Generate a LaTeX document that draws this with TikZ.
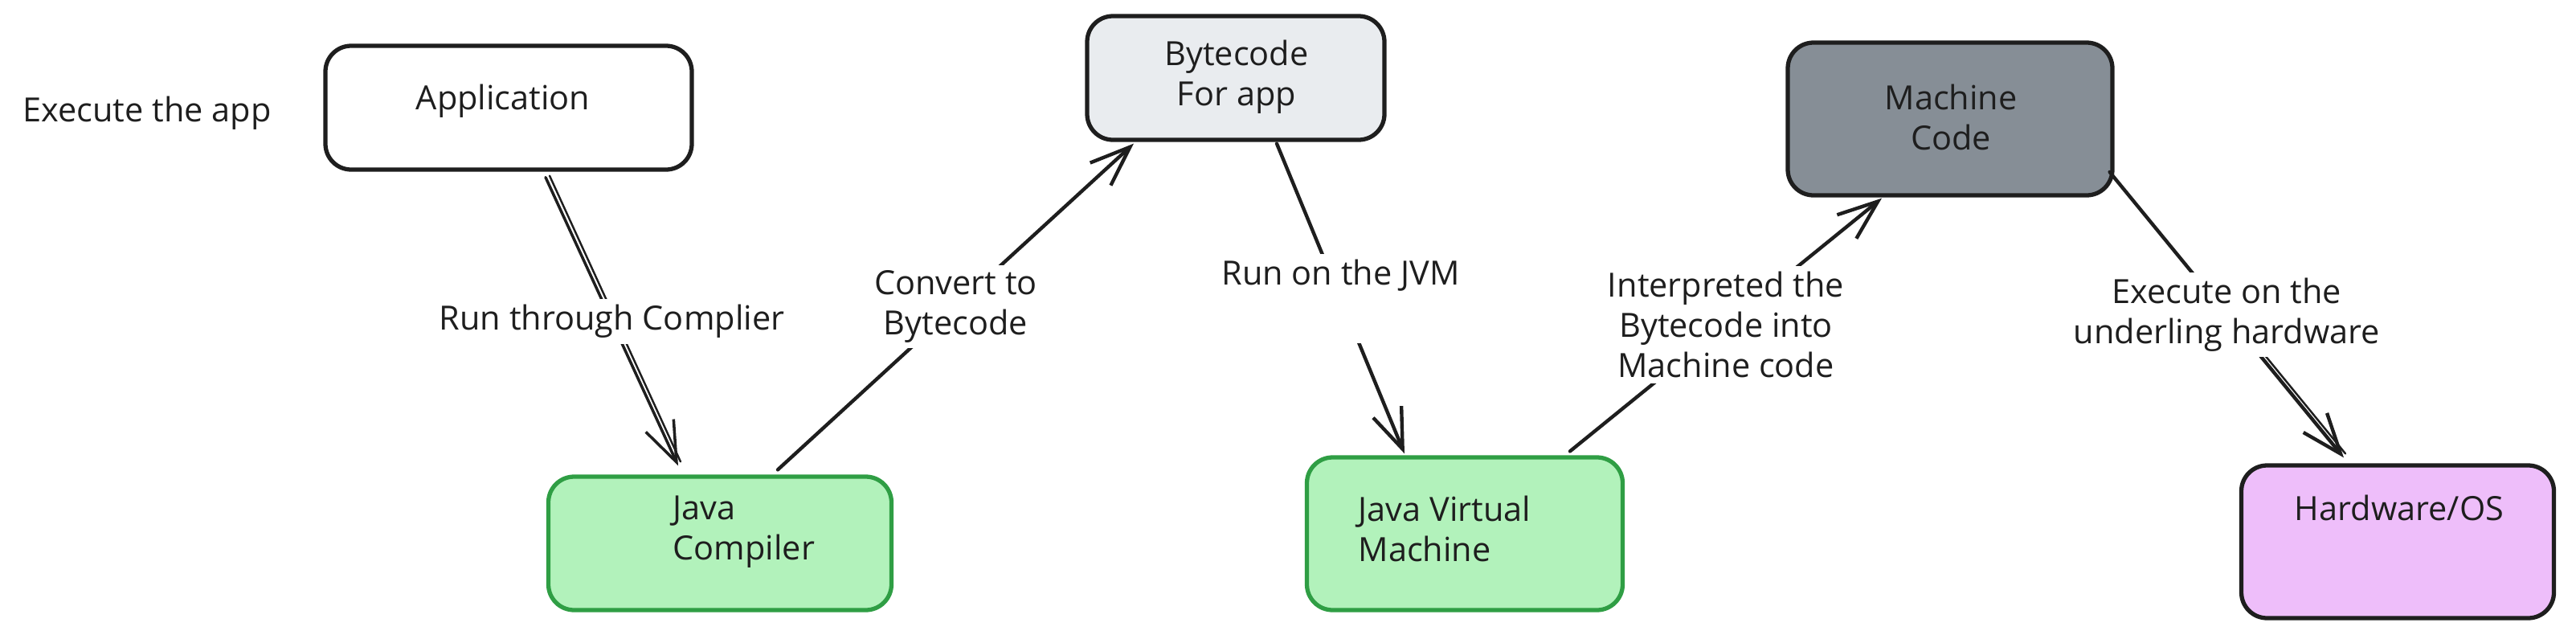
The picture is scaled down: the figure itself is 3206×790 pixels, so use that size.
\documentclass[tikz,border=0pt]{standalone}
\usepackage{fontspec}
\setmainfont{Open Sans}
\usetikzlibrary{arrows.meta,calc}
\definecolor{ink}{HTML}{1E1E1E}
\definecolor{grnfill}{HTML}{B2F2BB}
\definecolor{grnline}{HTML}{2F9E44}
\definecolor{lgray}{HTML}{E9ECEF}
\definecolor{dgray}{HTML}{868E96}
\definecolor{violetfill}{HTML}{EEBEFA}
\begin{document}
\begin{tikzpicture}[x=0.1mm,y=-0.1mm,
 box/.style={draw=ink, line width=1.5pt, rounded corners=3.2mm, inner sep=0pt},
 grnbox/.style={box, draw=grnline, fill=grnfill},
 txt/.style={font=\fontsize{11.8}{14.2}\selectfont, text=ink, align=left, inner sep=0pt},
 ctxt/.style={txt, align=center},
 lbl/.style={font=\fontsize{11.8}{14.2}\selectfont, text=ink, align=center, fill=white, inner sep=2pt},
 conn/.style={draw=ink, line width=1.25pt, line cap=round, line join=round, -{Straight Barb[length=5mm,width=3.8mm]}},
 sketch/.style={draw=ink, line width=0.7pt, line cap=round},
 ]
\useasboundingbox (0,0) rectangle (3206,790);
% boxes
\node[box, fill=white, minimum width=45.6mm, minimum height=15.4mm] (app) at (633,134) {};
\node[grnbox, minimum width=42.7mm, minimum height=16.6mm] (jc) at (896,676) {};
\node[box, fill=lgray, minimum width=37mm, minimum height=15.4mm] (bc) at (1538,97) {};
\node[grnbox, minimum width=39.3mm, minimum height=19mm] (jvm) at (1823,664) {};
\node[box, fill=dgray, minimum width=40.4mm, minimum height=19mm] (mc) at (2427,148) {};
\node[box, fill=violetfill, minimum width=38.9mm, minimum height=19mm] (hw) at (2984,674) {};
% texts
\node[ctxt] (exec) at (183,141) {Execute the app};
\node[ctxt] (appt) at (626,126) {Application};
\node[txt, anchor=west] (jct) at (837,662) {Java\\Compiler};
\node[ctxt] (bct) at (1539,96) {Bytecode\\For app};
\node[txt, anchor=west] (jvmt) at (1690,658) {Java Virtual\\Machine};
\node[ctxt] (mct) at (2428,146) {Machine\\Code};
\node[ctxt] (hwt) at (2986,632) {Hardware/OS};
% connectors
\draw[sketch] ($(app.south)+(51,5)$) -- ($(jc.north)+(-49,-16)$);
\draw[conn, line width=1pt] ($(app.south)+(46,7)$) -- ($(jc.north)+(-52,-11)$)
  node[lbl, pos=0.5] (l1) {Run through Complier};
\draw[conn] ($(jc.north)+(72,-6)$) -- ($(bc.south)+(-127,2)$)
  node[lbl, pos=0.5] (l2) {Convert to\\Bytecode};
\draw[conn] ($(bc.south)+(51,2)$) -- ($(jvm.north)+(-75,-2)$)
  node[lbl, pos=0.5] (l3) {Run on the JVM\\\strut};
\draw[conn] ($(jvm.north)+(131,-5)$) -- ($(mc.south)+(-85,1)$)
  node[lbl, pos=0.5] (l4) {Interpreted the\\Bytecode into\\Machine code};
\draw[sketch] ($(hw.north)+(-169,-139)$) -- ($(hw.north)+(-65,-12)$);
\draw[conn] ($(mc.east)+(-6,66)$) -- ($(hw.north)+(-67,-7)$)
  node[lbl, pos=0.5] (l5) {Execute on the\\underling hardware};
\end{tikzpicture}
\end{document}
